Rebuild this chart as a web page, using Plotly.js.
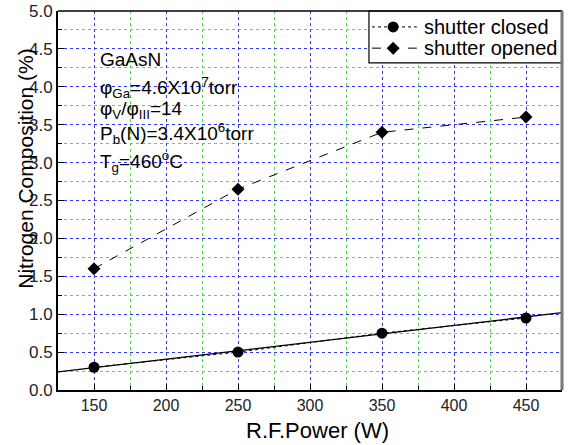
<!DOCTYPE html>
<html><head><meta charset="utf-8">
<script src="https://cdn.plot.ly/plotly-3.0.1.min.js"></script>
<style>html,body{margin:0;padding:0;background:#fff}#c{width:574px;height:445px}</style>
</head><body><div id="c"></div>
<script>
const power = [150, 250, 350, 450];
const closedVals = [0.30, 0.50, 0.75, 0.95];
const openedVals = [1.60, 2.65, 3.40, 3.60];
const fitX = [125, 475];
const fitY = [0.24, 1.02];
const seriesNames = ["shutter closed", "shutter opened"];
const noteLines = ["GaAsN", "φ<sub>Ga</sub>=4.6X10<sup>7</sup>torr", "φ<sub>V</sub>/φ<sub>III</sub>=14", "P<sub>b</sub>(N)=3.4X10<sup>6</sup>torr", "T<sub>g</sub>=460<sup>o</sup>C"];

const font = "Arial, 'Liberation Sans', sans-serif";
const traces = [
  {x: fitX, y: fitY, mode: "lines", line: {color: "#000", width: 1.3}, showlegend: false, hoverinfo: "skip"},
  {x: power, y: closedVals, name: seriesNames[0], mode: "lines+markers", showlegend: false,
   line: {color: "#000", width: 1, dash: "dot"}, marker: {symbol: "circle", size: 11, color: "#000"}},
  {x: power, y: openedVals, name: seriesNames[1], mode: "lines+markers", showlegend: false,
   line: {color: "#000", width: 1, dash: "dash"}, marker: {symbol: "diamond", size: 10, color: "#000"}}
];
const noteY = [0.871, 0.799, 0.740, 0.678, 0.602];
const notes = noteLines.map((t, i) => ({
  text: t, xref: "paper", yref: "paper", x: 0.079, y: noteY[i],
  xanchor: "left", yanchor: "middle", showarrow: false, font: {family: font, size: 19, color: "#000"}
}));
notes.push({text: "Nitrogen Composition (%)", xref: "paper", yref: "paper", x: -0.066, y: 0.583,
  xanchor: "center", yanchor: "middle", textangle: -90, showarrow: false,
  font: {family: font, size: 21, color: "#000"}});
notes.push({text: "R.F.Power (W)", xref: "paper", yref: "paper", x: 0.514, y: -0.106,
  xanchor: "center", yanchor: "middle", showarrow: false,
  font: {family: font, size: 22, color: "#000"}});
// manual legend
const legRows = [0.958, 0.902];
seriesNames.forEach((n, i) => notes.push({text: n, xref: "paper", yref: "paper", x: 0.722, y: legRows[i],
  xanchor: "left", yanchor: "middle", showarrow: false, font: {family: font, size: 20, color: "#000"}}));
const shapes = [
  {type: "rect", xref: "paper", yref: "paper", x0: 0.617, x1: 1, y0: 0.863, y1: 1, fillcolor: "#fff", line: {color: "#000", width: 1.2}, layer: "above"},
  {type: "line", xref: "paper", yref: "paper", x0: 0.623, x1: 0.712, y0: legRows[0], y1: legRows[0], line: {color: "#000", width: 1, dash: "dot"}, layer: "above"},
  {type: "line", xref: "paper", yref: "paper", x0: 0.623, x1: 0.712, y0: legRows[1], y1: legRows[1], line: {color: "#000", width: 1, dash: "dash"}, layer: "above"},
  {type: "circle", xref: "paper", yref: "paper", xsizemode: "pixel", ysizemode: "pixel", xanchor: 0.665, yanchor: legRows[0],
   x0: -5.5, x1: 5.5, y0: -5.5, y1: 5.5, fillcolor: "#000", line: {width: 0}, layer: "above"},
  {type: "path", xref: "paper", yref: "paper", xsizemode: "pixel", ysizemode: "pixel", xanchor: 0.665, yanchor: legRows[1],
   path: "M -6.5 0 L 0 6.5 L 6.5 0 L 0 -6.5 Z", fillcolor: "#000", line: {width: 0}, layer: "above"},
  {type: "line", xref: "paper", yref: "paper", x0: 0, x1: 1, y0: 1, y1: 1, line: {color: "#000", width: 1.5}},
  {type: "line", xref: "paper", yref: "paper", x0: 1, x1: 1, y0: 0, y1: 1, line: {color: "#777", width: 3}}
];
const layout = {
  width: 574, height: 445,
  margin: {l: 58, r: 12, t: 11, b: 55},
  paper_bgcolor: "#fff", plot_bgcolor: "#fff",
  font: {family: font, color: "#000"},
  showlegend: false,
  xaxis: {range: [125, 475], tick0: 0, dtick: 50, showgrid: true, gridcolor: "#3333ff", griddash: "dot", gridwidth: 1,
    minor: {dtick: 25, showgrid: true, gridcolor: "#33ee33", griddash: "dot", ticks: "inside", ticklen: 4, tickcolor: "#000"},
    ticks: "inside", ticklen: 6, tickcolor: "#000", showline: true, linecolor: "#000", linewidth: 2,
    zeroline: false, tickfont: {size: 16, family: font, color: "#222"}},
  yaxis: {range: [0, 5], dtick: 0.5, tickformat: ".1f", showgrid: true, gridcolor: "#3333ff", griddash: "dot", gridwidth: 1,
    minor: {dtick: 0.25, showgrid: true, gridcolor: "#33ee33", griddash: "dot", ticks: "inside", ticklen: 4, tickcolor: "#000"},
    ticks: "inside", ticklen: 6, tickcolor: "#000", showline: true, linecolor: "#000", linewidth: 2,
    zeroline: false, tickfont: {size: 17, family: font, color: "#222"}},
  shapes: shapes,
  annotations: notes
};
Plotly.newPlot("c", traces, layout, {displayModeBar: false, staticPlot: true});
</script></body></html>
